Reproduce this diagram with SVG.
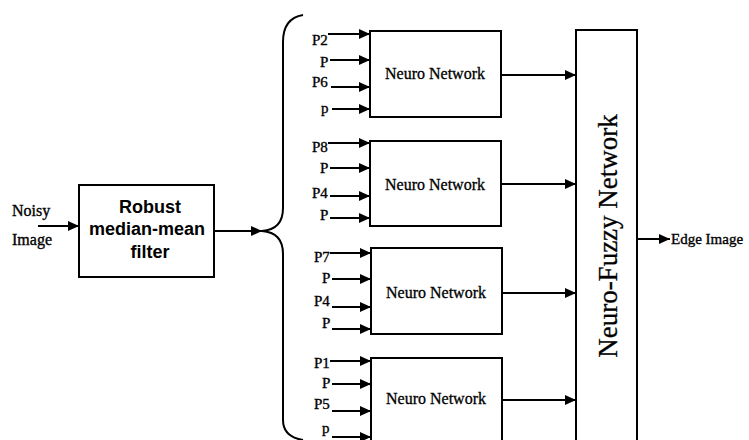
<svg xmlns="http://www.w3.org/2000/svg" width="749" height="440" viewBox="0 0 749 440">
<defs>
<marker id="ah" markerUnits="userSpaceOnUse" markerWidth="12" markerHeight="10" refX="11" refY="5" orient="auto">
<path d="M0,0 L11,5 L0,10 Z" fill="#000"/>
</marker>
</defs>
<style>
.box{fill:#fff;stroke:#000;stroke-width:2}
.ln{fill:none;stroke:#000;stroke-width:2;marker-end:url(#ah)}
.lab{font-family:"Liberation Serif","Times New Roman",serif;font-size:15px;fill:#000;stroke:#000;stroke-width:0.35}
.nn{font-family:"Liberation Serif","Times New Roman",serif;font-size:16px;fill:#000;stroke:#000;stroke-width:0.3;text-anchor:middle}
.sf{font-family:"Liberation Sans",Arial,sans-serif;font-size:18px;font-weight:bold;fill:#000;text-anchor:middle}
</style>
<rect width="749" height="440" fill="#fff"/>

<g id="input">
<text class="lab" x="12" y="216" style="font-size:16px">Noisy</text>
<text class="lab" x="12" y="245" style="font-size:16px">Image</text>
</g>

<g id="filter">
<rect class="box" x="79" y="185" width="135" height="92"/>
<text class="sf" x="150" y="213">Robust</text>
<text class="sf" x="147" y="235">median-mean</text>
<text class="sf" x="150" y="258">filter</text>
</g>

<g id="nn1">
<rect class="box" x="370" y="31" width="131" height="86"/>
<text class="nn" x="435" y="79">Neuro Network</text>
<text class="lab" x="312" y="45">P2</text>
<text class="lab" x="320" y="67">P</text>
<text class="lab" x="312" y="87">P6</text>
<text class="lab" x="321" y="113">p</text>
</g>

<g id="nn2">
<rect class="box" x="370" y="141" width="131" height="85"/>
<text class="nn" x="435" y="190">Neuro Network</text>
<text class="lab" x="312" y="152">P8</text>
<text class="lab" x="320" y="173">P</text>
<text class="lab" x="312" y="198">P4</text>
<text class="lab" x="320" y="220">P</text>
</g>

<g id="nn3">
<rect class="box" x="371" y="248" width="131" height="86"/>
<text class="nn" x="436" y="298">Neuro Network</text>
<text class="lab" x="314" y="262">P7</text>
<text class="lab" x="322" y="283">P</text>
<text class="lab" x="314" y="306">P4</text>
<text class="lab" x="322" y="328">P</text>
</g>

<g id="nn4">
<rect class="box" x="371" y="358" width="131" height="90"/>
<text class="nn" x="436" y="404">Neuro Network</text>
<text class="lab" x="314" y="368">P1</text>
<text class="lab" x="322" y="388">P</text>
<text class="lab" x="314" y="409">P5</text>
<text class="lab" x="322" y="433">p</text>
</g>

<g id="nfn">
<rect class="box" x="576" y="30" width="61" height="420"/>
<text transform="translate(617,236) rotate(-90)" style="font-family:'Liberation Serif','Times New Roman',serif;font-size:27px;fill:#000;stroke:#000;stroke-width:0.3;text-anchor:middle">Neuro-Fuzzy Network</text>
</g>

<g id="output">
<text class="lab" x="671" y="244" style="font-size:15px">Edge Image</text>
</g>

<g id="connectors">
<line class="ln" x1="38" y1="226" x2="79" y2="226"/>
<line class="ln" x1="214" y1="231" x2="262" y2="231"/>
<path d="M303,15 C291,17 283,25 283,42 L283,208 C283,222 276,230 262,231 C276,232 283,240 283,254 L283,420 C283,432 291,438 303,440" fill="none" stroke="#000" stroke-width="2"/>

<line class="ln" x1="328" y1="34" x2="370" y2="34"/>
<line class="ln" x1="330" y1="60" x2="370" y2="60"/>
<line class="ln" x1="331" y1="87" x2="370" y2="87"/>
<line class="ln" x1="332" y1="109" x2="370" y2="109"/>

<line class="ln" x1="328" y1="143" x2="370" y2="143"/>
<line class="ln" x1="330" y1="168" x2="370" y2="168"/>
<line class="ln" x1="330" y1="196" x2="370" y2="196"/>
<line class="ln" x1="330" y1="218" x2="370" y2="218"/>

<line class="ln" x1="330" y1="253" x2="371" y2="253"/>
<line class="ln" x1="332" y1="279" x2="371" y2="279"/>
<line class="ln" x1="332" y1="307" x2="371" y2="307"/>
<line class="ln" x1="332" y1="329" x2="371" y2="329"/>

<line class="ln" x1="330" y1="361" x2="371" y2="361"/>
<line class="ln" x1="332" y1="384" x2="371" y2="384"/>
<line class="ln" x1="332" y1="411" x2="371" y2="411"/>
<line class="ln" x1="332" y1="437" x2="371" y2="437"/>

<line class="ln" x1="501" y1="75" x2="576" y2="75"/>
<line class="ln" x1="501" y1="184" x2="576" y2="184"/>
<line class="ln" x1="502" y1="293" x2="576" y2="293"/>
<line class="ln" x1="502" y1="400" x2="576" y2="400"/>

<line class="ln" x1="637" y1="239" x2="670" y2="239"/>
</g>
</svg>
